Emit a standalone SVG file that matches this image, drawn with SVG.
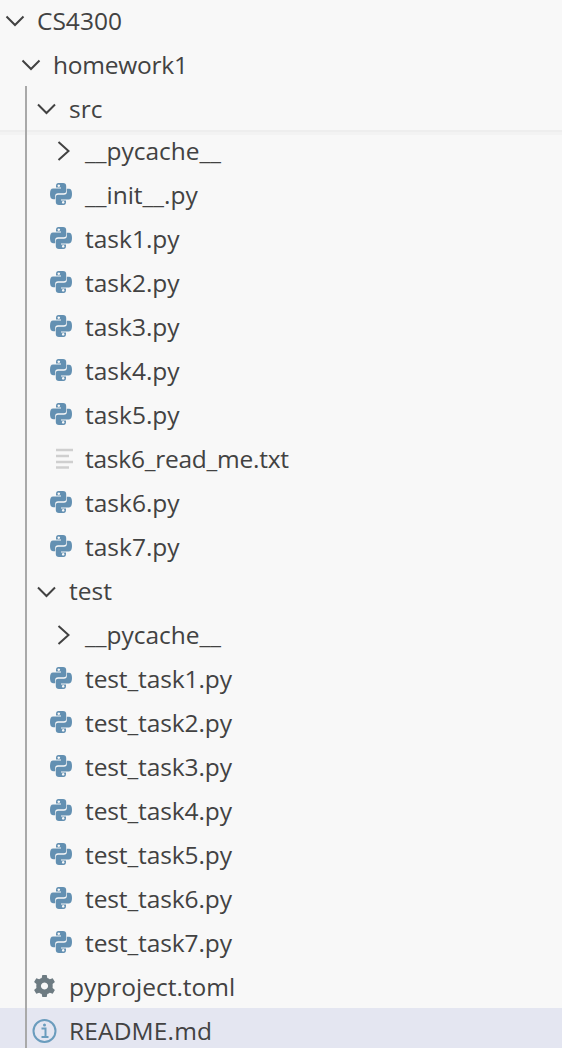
<svg xmlns="http://www.w3.org/2000/svg" xmlns:xlink="http://www.w3.org/1999/xlink" width="562" height="1048" viewBox="0 0 562 1048">
<style>
text{font-family:"Open Sans","Noto Sans","Liberation Sans",sans-serif;font-size:24.5px;fill:#424242}
.chev{fill:none;stroke:#424242;stroke-width:2}
.py{fill:#6390b2}
.ln{stroke:#cfcfcf;stroke-width:2.4}
</style>
<defs>
<g id="python">
<path id="snake" class="py" fill-rule="evenodd" d="M-2.5,-11H2Q5.2,-11 5.2,-8V-3Q5.2,-.8 3,-.8H-3Q-5.8,-.8 -5.8,2V5.2H-8Q-11,5.2 -11,0Q-11,-5.4 -8,-5.4H0V-6.4H-5V-8Q-5,-11 -2.5,-11ZM-2.2,-9.6a1.3,1.3 0 1 0 .01,0Z"/>
<use xlink:href="#snake" href="#snake" transform="rotate(180)"/>
</g>
<path id="chevdown" class="chev" d="M-8.5,-4.5L0,4L8.5,-4.5"/>
<path id="chevright" class="chev" d="M-5,-9L5,0L-5,9"/>
</defs>
<rect id="background" width="562" height="1048" fill="#f8f8f8"/>
<rect id="selected-row" y="1008" width="562" height="40" fill="#e4e6f1"/>
<rect id="sticky-shadow-1" y="130" width="562" height="2" fill="#eeeeee"/>
<rect id="sticky-shadow-2" y="132" width="562" height="3" fill="#f3f3f3"/>
<g id="connectors"><rect id="indent-guide" x="25" y="86" width="2" height="962" fill="#a9a9a9"/></g>
<g id="cs4300"><use href="#chevdown" x="15" y="21"/><text x="37" y="29.500">CS4300</text></g>
<g id="homework1"><use href="#chevdown" x="31" y="65"/><text x="53" y="74" textLength="135">homework1</text></g>
<g id="src"><use href="#chevdown" x="46.500" y="109"/><text x="69" y="117.500">src</text></g>
<g id="src-pycache"><use href="#chevright" x="63.500" y="151"/><text x="85" y="160">__pycache__</text></g>
<g id="init"><use href="#python" x="61" y="194"/><text x="85" y="204">__init__.py</text></g>
<g id="task1"><use href="#python" x="61" y="238"/><text x="85" y="248">task1.py</text></g>
<g id="task2"><use href="#python" x="61" y="282"/><text x="85" y="292">task2.py</text></g>
<g id="task3"><use href="#python" x="61" y="326"/><text x="85" y="336">task3.py</text></g>
<g id="task4"><use href="#python" x="61" y="370"/><text x="85" y="380">task4.py</text></g>
<g id="task5"><use href="#python" x="61" y="414"/><text x="85" y="424">task5.py</text></g>
<g id="task6-readme"><path class="ln" d="M56,450H73M56,456H69M56,462H73M56,467.500H69"/><text x="85" y="468" textLength="204">task6_read_me.txt</text></g>
<g id="task6"><use href="#python" x="61" y="502"/><text x="85" y="512">task6.py</text></g>
<g id="task7"><use href="#python" x="61" y="546"/><text x="85" y="556">task7.py</text></g>
<g id="test"><use href="#chevdown" x="46.500" y="592"/><text x="69" y="600">test</text></g>
<g id="test-pycache"><use href="#chevright" x="63.500" y="635"/><text x="85" y="644">__pycache__</text></g>
<g id="test-task1"><use href="#python" x="61" y="678"/><text x="85" y="688" textLength="147">test_task1.py</text></g>
<g id="test-task2"><use href="#python" x="61" y="722"/><text x="85" y="732" textLength="147">test_task2.py</text></g>
<g id="test-task3"><use href="#python" x="61" y="766"/><text x="85" y="776" textLength="147">test_task3.py</text></g>
<g id="test-task4"><use href="#python" x="61" y="810"/><text x="85" y="820" textLength="147">test_task4.py</text></g>
<g id="test-task5"><use href="#python" x="61" y="854"/><text x="85" y="864" textLength="147">test_task5.py</text></g>
<g id="test-task6"><use href="#python" x="61" y="898"/><text x="85" y="908" textLength="147">test_task6.py</text></g>
<g id="test-task7"><use href="#python" x="61" y="942"/><text x="85" y="952" textLength="147">test_task7.py</text></g>
<g id="pyproject">
<g transform="translate(44.500,986)" fill="#6d7b82">
<path fill-rule="evenodd" d="M-2.200,-11H2.200L2.800,-8Q4.300,-7.500 5.300,-6.700L8.200,-7.700L10.400,-3.900L8.100,-1.900Q8.300,0 8.100,1.900L10.400,3.900L8.200,7.700L5.300,6.700Q4.300,7.500 2.800,8L2.200,11H-2.200L-2.800,8Q-4.300,7.500 -5.300,6.700L-8.200,7.700L-10.400,3.900L-8.100,1.900Q-8.300,0 -8.100,-1.900L-10.400,-3.900L-8.200,-7.700L-5.300,-6.700Q-4.300,-7.500 -2.800,-8ZM0,-3.600a3.600,3.600 0 1 0 .01,0Z"/>
</g>
<text x="69" y="996">pyproject.toml</text></g>
<g id="readme">
<circle cx="44.500" cy="1031" r="11" fill="none" stroke="#6a9cbd" stroke-width="2"/>
<circle cx="44.500" cy="1025" r="1.500" fill="#6a9cbd"/>
<path d="M41.500,1028.500H45.500V1036.500M41.500,1037H48.500" fill="none" stroke="#6a9cbd" stroke-width="2"/>
<text x="69" y="1040" textLength="143">README.md</text></g>
</svg>
